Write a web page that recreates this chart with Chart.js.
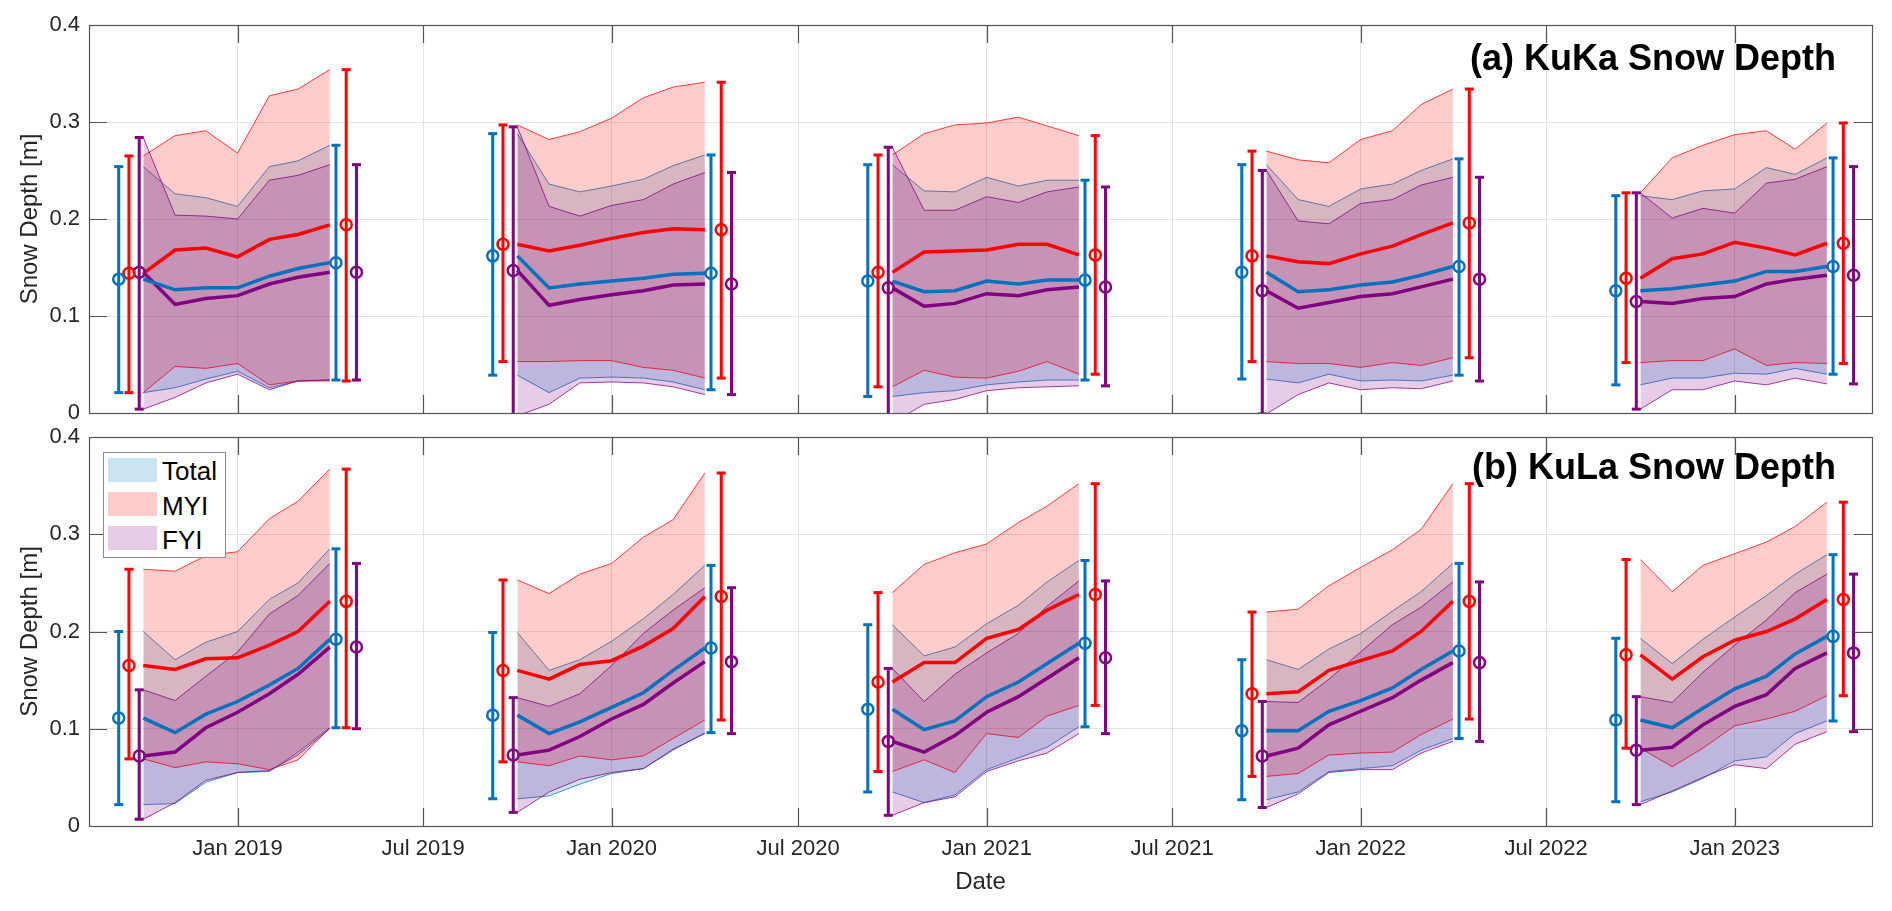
<!DOCTYPE html>
<html>
<head>
<meta charset="utf-8">
<title>Snow Depth</title>
<script src="https://cdn.jsdelivr.net/npm/chart.js@4.4.0/dist/chart.umd.min.js"></script>
<style>
  body { margin: 0; background: #fff; }
  #wrap { position: relative; width: 1892px; height: 911px; overflow: hidden; font-family: "Liberation Sans", Arial, sans-serif; }
  canvas { position: absolute; left: 0; }
  #cKuKa { top: 0; }
  #cKuLa { top: 410px; }
  .panelTitle { position: absolute; right: 56px; font-size: 36px; font-weight: bold; line-height: 36px; color: #000; white-space: nowrap; }
  #legend { position: absolute; left: 103px; top: 452px; width: 121px; height: 104px; border: 1px solid #8c8c8c; background: #fff; }
  .sw { position: absolute; left: 4px; width: 49px; height: 24px; }
  .lt { position: absolute; left: 58px; font-size: 26px; line-height: 26px; color: #000; }
</style>
</head>
<body>
<div id="wrap">
  <canvas id="cKuKa" width="1892" height="430"></canvas>
  <canvas id="cKuLa" width="1892" height="501"></canvas>
  <div class="panelTitle" style="top:40px">(a) KuKa Snow Depth</div>
  <div class="panelTitle" style="top:449px">(b) KuLa Snow Depth</div>
  <div id="legend">
    <div class="sw" style="top:5px;background:#cce3f2"></div><div class="lt" style="top:5px">Total</div>
    <div class="sw" style="top:39px;background:#ffcccc"></div><div class="lt" style="top:40px">MYI</div>
    <div class="sw" style="top:73px;background:#e6cce6"></div><div class="lt" style="top:74px">FYI</div>
  </div>
</div>
<script>
// winters Oct..Apr, monthly values on the 1st of each month
const months = ['Oct', 'Nov', 'Dec', 'Jan', 'Feb', 'Mar', 'Apr'];
const seasons = [2018, 2019, 2020, 2021, 2022];
const xTickDates = ['2019-01-01', '2019-07-01', '2020-01-01', '2020-07-01', '2021-01-01',
                    '2021-07-01', '2022-01-01', '2022-07-01', '2023-01-01'];
const xTickLabels = ['Jan 2019', 'Jul 2019', 'Jan 2020', 'Jul 2020', 'Jan 2021',
                     'Jul 2021', 'Jan 2022', 'Jul 2022', 'Jan 2023'];

// (a) KuKa
const kukaTotalMean = [
  [0.138, 0.127, 0.129, 0.129, 0.141, 0.149, 0.155],
  [0.162, 0.129, 0.133, 0.136, 0.139, 0.143, 0.144],
  [0.136, 0.125, 0.126, 0.136, 0.133, 0.137, 0.137],
  [0.145, 0.125, 0.127, 0.132, 0.135, 0.142, 0.151],
  [0.126, 0.128, 0.132, 0.136, 0.146, 0.146, 0.151]];
const kukaTotalHi = [
  [0.254, 0.226, 0.222, 0.213, 0.254, 0.260, 0.276],
  [0.288, 0.236, 0.228, 0.234, 0.241, 0.255, 0.266],
  [0.256, 0.229, 0.228, 0.243, 0.234, 0.240, 0.240],
  [0.256, 0.220, 0.213, 0.231, 0.236, 0.250, 0.262],
  [0.224, 0.220, 0.229, 0.231, 0.253, 0.246, 0.263]];
const kukaTotalLo = [
  [0.021, 0.026, 0.035, 0.043, 0.026, 0.033, 0.034],
  [0.039, 0.021, 0.036, 0.037, 0.036, 0.032, 0.024],
  [0.017, 0.021, 0.023, 0.029, 0.032, 0.034, 0.034],
  [0.035, 0.031, 0.040, 0.033, 0.034, 0.033, 0.039],
  [0.029, 0.036, 0.036, 0.041, 0.040, 0.046, 0.040]];
const kukaMyiMean = [
  [0.144, 0.168, 0.170, 0.161, 0.179, 0.184, 0.194],
  [0.174, 0.167, 0.173, 0.180, 0.186, 0.190, 0.189],
  [0.145, 0.166, 0.167, 0.168, 0.174, 0.174, 0.163],
  [0.162, 0.156, 0.154, 0.164, 0.172, 0.184, 0.196],
  [0.139, 0.159, 0.164, 0.176, 0.170, 0.163, 0.175]];
const kukaMyiHi = [
  [0.265, 0.286, 0.291, 0.268, 0.327, 0.334, 0.354],
  [0.297, 0.282, 0.290, 0.304, 0.325, 0.336, 0.341],
  [0.266, 0.288, 0.297, 0.299, 0.305, 0.296, 0.286],
  [0.270, 0.261, 0.258, 0.282, 0.291, 0.318, 0.334],
  [0.227, 0.263, 0.276, 0.287, 0.291, 0.272, 0.299]];
const kukaMyiLo = [
  [0.021, 0.048, 0.046, 0.051, 0.029, 0.033, 0.033],
  [0.053, 0.053, 0.054, 0.054, 0.047, 0.044, 0.036],
  [0.027, 0.044, 0.037, 0.036, 0.043, 0.053, 0.040],
  [0.053, 0.051, 0.051, 0.047, 0.052, 0.049, 0.057],
  [0.052, 0.054, 0.054, 0.066, 0.049, 0.052, 0.051]];
const kukaFyiMean = [
  [0.145, 0.112, 0.118, 0.121, 0.133, 0.140, 0.145],
  [0.147, 0.111, 0.117, 0.122, 0.126, 0.132, 0.133],
  [0.129, 0.110, 0.113, 0.123, 0.121, 0.127, 0.130],
  [0.126, 0.108, 0.114, 0.120, 0.123, 0.130, 0.138],
  [0.115, 0.113, 0.118, 0.120, 0.133, 0.138, 0.142]];
const kukaFyiHi = [
  [0.284, 0.204, 0.203, 0.200, 0.240, 0.245, 0.256],
  [0.295, 0.213, 0.203, 0.214, 0.220, 0.236, 0.248],
  [0.274, 0.209, 0.209, 0.223, 0.217, 0.228, 0.233],
  [0.250, 0.198, 0.195, 0.216, 0.220, 0.235, 0.243],
  [0.227, 0.201, 0.211, 0.206, 0.237, 0.241, 0.254]];
const kukaFyiLo = [
  [0.004, 0.016, 0.031, 0.040, 0.024, 0.033, 0.034],
  [-0.003, 0.009, 0.031, 0.032, 0.031, 0.027, 0.019],
  [-0.010, 0.009, 0.014, 0.023, 0.026, 0.027, 0.028],
  [-0.001, 0.019, 0.031, 0.024, 0.026, 0.025, 0.033],
  [0.004, 0.024, 0.024, 0.033, 0.029, 0.036, 0.030]];

// (b) KuLa
const kulaTotalMean = [
  [0.111, 0.096, 0.115, 0.128, 0.145, 0.162, 0.192],
  [0.114, 0.095, 0.107, 0.122, 0.137, 0.160, 0.183],
  [0.120, 0.099, 0.108, 0.133, 0.148, 0.167, 0.188],
  [0.098, 0.098, 0.118, 0.129, 0.142, 0.161, 0.180],
  [0.109, 0.101, 0.121, 0.141, 0.154, 0.177, 0.195]];
const kulaTotalHi = [
  [0.200, 0.171, 0.189, 0.200, 0.233, 0.250, 0.285],
  [0.199, 0.160, 0.171, 0.190, 0.213, 0.238, 0.268],
  [0.207, 0.175, 0.184, 0.208, 0.227, 0.251, 0.273],
  [0.171, 0.161, 0.182, 0.198, 0.221, 0.241, 0.270],
  [0.193, 0.167, 0.192, 0.215, 0.237, 0.259, 0.279]];
const kulaTotalLo = [
  [0.022, 0.023, 0.045, 0.055, 0.056, 0.076, 0.101],
  [0.028, 0.031, 0.043, 0.054, 0.059, 0.078, 0.096],
  [0.035, 0.024, 0.032, 0.058, 0.070, 0.081, 0.102],
  [0.027, 0.035, 0.056, 0.059, 0.062, 0.078, 0.090],
  [0.025, 0.035, 0.049, 0.067, 0.071, 0.095, 0.108]];
const kulaMyiMean = [
  [0.165, 0.161, 0.172, 0.173, 0.186, 0.200, 0.231],
  [0.160, 0.151, 0.166, 0.170, 0.185, 0.203, 0.236],
  [0.148, 0.168, 0.168, 0.193, 0.202, 0.222, 0.238],
  [0.136, 0.138, 0.160, 0.170, 0.180, 0.200, 0.231],
  [0.176, 0.151, 0.174, 0.191, 0.200, 0.213, 0.233]];
const kulaMyiHi = [
  [0.264, 0.262, 0.278, 0.282, 0.316, 0.334, 0.367],
  [0.253, 0.239, 0.259, 0.270, 0.297, 0.315, 0.363],
  [0.240, 0.269, 0.281, 0.290, 0.312, 0.329, 0.352],
  [0.220, 0.223, 0.247, 0.266, 0.284, 0.305, 0.352],
  [0.274, 0.241, 0.268, 0.280, 0.292, 0.308, 0.333]];
const kulaMyiLo = [
  [0.069, 0.060, 0.066, 0.064, 0.058, 0.068, 0.101],
  [0.066, 0.062, 0.072, 0.068, 0.072, 0.090, 0.109],
  [0.056, 0.068, 0.055, 0.095, 0.091, 0.113, 0.124],
  [0.051, 0.054, 0.073, 0.075, 0.076, 0.094, 0.110],
  [0.080, 0.061, 0.080, 0.103, 0.110, 0.118, 0.134]];
const kulaFyiMean = [
  [0.072, 0.076, 0.101, 0.117, 0.136, 0.156, 0.184],
  [0.073, 0.078, 0.092, 0.110, 0.125, 0.147, 0.169],
  [0.087, 0.076, 0.093, 0.117, 0.133, 0.152, 0.173],
  [0.072, 0.080, 0.104, 0.118, 0.132, 0.150, 0.168],
  [0.078, 0.081, 0.104, 0.123, 0.135, 0.162, 0.178]];
const kulaFyiHi = [
  [0.140, 0.129, 0.154, 0.179, 0.218, 0.237, 0.270],
  [0.132, 0.123, 0.136, 0.165, 0.198, 0.222, 0.245],
  [0.162, 0.128, 0.156, 0.178, 0.198, 0.226, 0.252],
  [0.128, 0.127, 0.151, 0.179, 0.207, 0.225, 0.251],
  [0.133, 0.127, 0.158, 0.186, 0.212, 0.240, 0.259]];
const kulaFyiLo = [
  [0.007, 0.024, 0.047, 0.055, 0.057, 0.073, 0.100],
  [0.014, 0.035, 0.048, 0.055, 0.059, 0.079, 0.095],
  [0.011, 0.024, 0.030, 0.056, 0.067, 0.075, 0.095],
  [0.019, 0.033, 0.055, 0.058, 0.058, 0.075, 0.087],
  [0.022, 0.036, 0.050, 0.063, 0.059, 0.084, 0.097]];

const DAY = 86400000;
const X_MIN = Date.UTC(2018, 7, 9);
const X_MAX = Date.UTC(2023, 4, 15);

// style per ice type; errOff = days before first / after last month for the error bars
const TYPES = [
  { key: 'total', line: '#0072bd', edge: 'rgba(0,114,189,0.75)', fill: 'rgba(0,114,189,0.2)', band: 6, errOff: [-24, 6] },
  { key: 'myi', line: '#ff0000', edge: 'rgba(255,0,0,0.75)', fill: 'rgba(255,0,0,0.2)', band: 5, errOff: [-14, 16] },
  { key: 'fyi', line: '#800080', edge: 'rgba(128,0,128,0.75)', fill: 'rgba(128,0,128,0.2)', band: 4, errOff: [-4, 26] }
];

function monthX(year, i) {
  const m = 9 + i;
  return Date.UTC(year + Math.floor(m / 12), m % 12, 1);
}

function buildDatasets(panel) {
  const ds = [];
  TYPES.forEach(t => {
    const st = panel[t.key];
    const bars = [];
    const marks = [];
    seasons.forEach((yr, si) => {
      const xs = months.map((_, i) => monthX(yr, i));
      const loIndex = ds.length;
      ds.push({ data: xs.map((x, i) => ({ x, y: st.lo[si][i] })), borderColor: t.edge, borderWidth: 1,
                pointRadius: 0, fill: false, order: t.band });
      ds.push({ data: xs.map((x, i) => ({ x, y: st.hi[si][i] })), borderColor: t.edge, borderWidth: 1,
                pointRadius: 0, fill: loIndex, backgroundColor: t.fill, order: t.band });
      ds.push({ data: xs.map((x, i) => ({ x, y: st.mean[si][i] })), borderColor: t.line, borderWidth: 3.5,
                pointRadius: 0, fill: false, order: 3 });
      [[0, t.errOff[0]], [months.length - 1, t.errOff[1]]].forEach(([i, off]) => {
        const xb = xs[i] + off * DAY;
        bars.push({ x: xb, y: st.lo[si][i] }, { x: xb, y: st.hi[si][i] }, { x: xb, y: null });
        marks.push({ x: xb, y: st.mean[si][i] });
      });
    });
    ds.push({ data: bars, borderColor: t.line, borderWidth: 3, pointStyle: 'line', pointRadius: 4.5,
              pointBorderWidth: 3, pointBorderColor: t.line, fill: false, spanGaps: false, order: 2 });
    ds.push({ data: marks, showLine: false, pointStyle: 'circle', pointRadius: 5.5, pointBorderWidth: 2.5,
              pointBorderColor: t.line, pointBackgroundColor: 'rgba(0,0,0,0)', fill: false, order: 1 });
  });
  return ds;
}

// box around the axes with inward tick marks on all four sides
const boxTicks = {
  id: 'boxTicks',
  afterDatasetsDraw(chart) {
    const { ctx, chartArea: a, scales } = chart;
    const len = 18;
    ctx.save();
    ctx.strokeStyle = '#555';
    ctx.lineWidth = 1.2;
    ctx.beginPath();
    scales.x.ticks.forEach(t => {
      const px = Math.round(scales.x.getPixelForValue(t.value)) + 0.5;
      ctx.moveTo(px, a.bottom); ctx.lineTo(px, a.bottom - len);
      ctx.moveTo(px, a.top); ctx.lineTo(px, a.top + len);
    });
    scales.y.ticks.forEach(t => {
      const py = Math.round(scales.y.getPixelForValue(t.value)) + 0.5;
      ctx.moveTo(a.left, py); ctx.lineTo(a.left + len, py);
      ctx.moveTo(a.right, py); ctx.lineTo(a.right - len, py);
    });
    ctx.stroke();
    ctx.strokeRect(Math.round(a.left) + 0.5, Math.round(a.top) + 0.5,
                   Math.round(a.right - a.left), Math.round(a.bottom - a.top));
    ctx.restore();
  }
};

Chart.defaults.font.family = '"Liberation Sans", Arial, sans-serif';
Chart.defaults.color = '#262626';

function makeChart(id, panel, showX, padTop) {
  const tickVals = xTickDates.map(d => Date.parse(d + 'T00:00:00Z'));
  return new Chart(document.getElementById(id), {
    type: 'line',
    data: { datasets: buildDatasets(panel) },
    options: {
      responsive: false,
      animation: false,
      devicePixelRatio: 1,
      events: [],
      layout: { padding: { top: padTop, right: 20, bottom: 0, left: 0 } },
      plugins: { legend: { display: false }, tooltip: { enabled: false }, filler: { propagate: false } },
      scales: {
        x: {
          type: 'linear', min: X_MIN, max: X_MAX,
          afterBuildTicks: s => { s.ticks = tickVals.map(v => ({ value: v })); },
          ticks: { display: showX, autoSkip: false, maxRotation: 0, padding: 10,
                   font: { size: 22 }, callback: (v, i) => xTickLabels[i] },
          grid: { color: '#e3e3e3', drawTicks: false },
          border: { display: false },
          title: { display: showX, text: 'Date', font: { size: 24 }, padding: { bottom: 14 } },
          afterFit: s => { s.height = showX ? 85 : 17; s.paddingLeft = 0; s.paddingRight = 0; }
        },
        y: {
          min: 0, max: 0.4,
          ticks: { stepSize: 0.1, padding: 9, font: { size: 22 } },
          grid: { color: '#e3e3e3', drawTicks: false },
          border: { display: false },
          title: { display: true, text: 'Snow Depth [m]', font: { size: 24 }, padding: { top: 16 } },
          afterFit: s => { s.width = 89; s.paddingTop = 0; s.paddingBottom = 0; }
        }
      }
    },
    plugins: [boxTicks]
  });
}

makeChart('cKuKa', {
  total: { mean: kukaTotalMean, hi: kukaTotalHi, lo: kukaTotalLo },
  myi: { mean: kukaMyiMean, hi: kukaMyiHi, lo: kukaMyiLo },
  fyi: { mean: kukaFyiMean, hi: kukaFyiHi, lo: kukaFyiLo }
}, false, 25);

makeChart('cKuLa', {
  total: { mean: kulaTotalMean, hi: kulaTotalHi, lo: kulaTotalLo },
  myi: { mean: kulaMyiMean, hi: kulaMyiHi, lo: kulaMyiLo },
  fyi: { mean: kulaFyiMean, hi: kulaFyiHi, lo: kulaFyiLo }
}, true, 27);
</script>
</body>
</html>
